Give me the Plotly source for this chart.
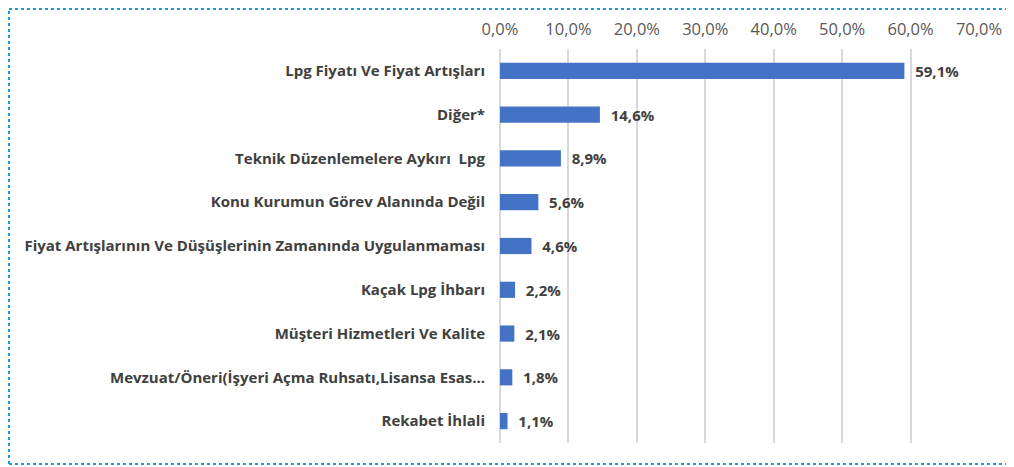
import plotly.graph_objects as go

categories = [
    "Lpg Fiyatı Ve Fiyat Artışları",
    "Diğer*",
    "Teknik Düzenlemelere Aykırı  Lpg",
    "Konu Kurumun Görev Alanında Değil",
    "Fiyat Artışlarının Ve Düşüşlerinin Zamanında Uygulanmaması",
    "Kaçak Lpg İhbarı",
    "Müşteri Hizmetleri Ve Kalite",
    "Mevzuat/Öneri(İşyeri Açma Ruhsatı,Lisansa Esas...",
    "Rekabet İhlali",
]
values = [59.1, 14.6, 8.9, 5.6, 4.6, 2.2, 2.1, 1.8, 1.1]
tick_vals = [0, 10, 20, 30, 40, 50, 60, 70]
tick_text = ["0,0%", "10,0%", "20,0%", "30,0%", "40,0%", "50,0%", "60,0%", "70,0%"]
value_labels = ["{:.1f}%".format(v).replace(".", ",") for v in values]

FONT = "Open Sans"
OFF = 8  # page body margin offset

fig = go.Figure()
fig.add_trace(go.Bar(
    x=values, y=categories, orientation="h",
    marker=dict(color="#4472C4", line=dict(width=0)),
    text=["  " + t for t in value_labels],
    textposition="outside",
    constraintext="none",
    textfont=dict(family=FONT, size=15, color="#404040", weight="bold"),
    cliponaxis=False,
    hoverinfo="skip",
))

W, H = 1014 - OFF, 467 - OFF
L, T, R, B = 500 - OFF, 49 - OFF, 35, 24
PW, PH = W - L - R, H - T - B

bx0 = (1 - L) / PW
bx1 = (W - L) / PW
by0 = -(464 - OFF - (T + PH)) / PH
by1 = 1 + (T - 1) / PH
border = dict(color="#1a9be0", width=2, dash="dot")

fig.update_layout(
    width=W, height=H,
    margin=dict(l=L, r=R, t=T, b=B, autoexpand=False),
    paper_bgcolor="white", plot_bgcolor="white",
    bargap=0.63,
    showlegend=False,
    font=dict(family=FONT, color="#595959"),
    xaxis=dict(
        side="top", range=[0, 70], tickvals=tick_vals, ticktext=tick_text,
        showgrid=True, gridcolor="#d9d9d9", gridwidth=1.5,
        zeroline=True, zerolinecolor="#d9d9d9", zerolinewidth=1.5,
        showline=False, ticks="", ticklabelstandoff=10,
        tickfont=dict(family=FONT, size=16.5, color="#595959"),
        automargin=False, fixedrange=True,
    ),
    yaxis=dict(
        autorange="reversed", showgrid=False, ticks="", showline=False,
        ticklabelstandoff=14,
        tickfont=dict(family=FONT, size=15, color="#404040", weight="bold"),
        automargin=False, fixedrange=True,
    ),
    shapes=[
        dict(type="line", xref="paper", yref="paper", x0=bx0, x1=bx1, y0=by1, y1=by1, line=border),
        dict(type="line", xref="paper", yref="paper", x0=bx0, x1=bx1, y0=by0, y1=by0, line=border),
        dict(type="line", xref="paper", yref="paper", x0=bx0, x1=bx0, y0=by0, y1=by1, line=border),
    ],
)

fig.write_html("out.html")
